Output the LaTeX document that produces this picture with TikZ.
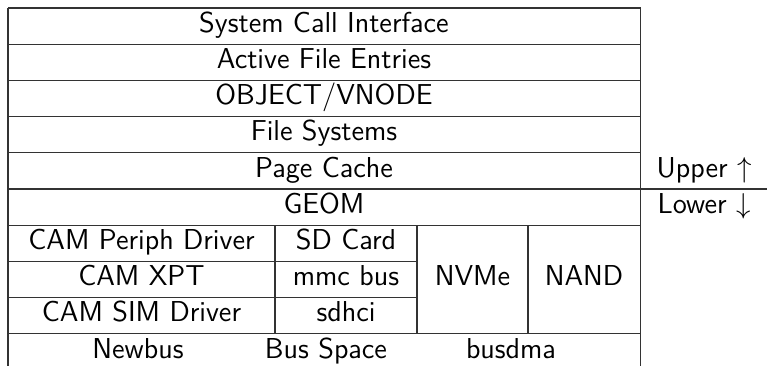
\documentclass[tikz,border=0pt]{standalone}
\usepackage{amsmath}
\usepackage{amssymb}
\usetikzlibrary{positioning}

\begin{document}
\begin{tikzpicture}[x=0.5pt, y=-0.5pt,
                every node/.append style={font=\sffamily\fontsize{14.4}{17}\selectfont, inner sep=0pt, anchor=base},
                rule/.style={draw=black!80, line width=0.6pt}]

\useasboundingbox (0,0) rectangle (767,366);

% rules of the table
\foreach \y in {8,44.2,80.4,116.6,152.8,225.2,333.8}
    \draw[rule] (8,\y) -- (640.5,\y);
\draw[rule] (8,189) -- (767,189);
\foreach \y in {261.4,297.6}
    \draw[rule] (8,\y) -- (417,\y);
\foreach \x in {275,417,528}
    \draw[rule] (\x,225.2) -- (\x,333.8);
\draw[rule] (8,8) -- (8,366);
\draw[rule] (640.5,8) -- (640.5,366);

% upper layers
\node (sci) at (324,32.2) {System Call Interface};
\node (afe) at (324,68.4) {Active File Entries};
\node (vnode) at (324,104.6) {OBJECT/VNODE};
\node (fs) at (324,140.8) {File Systems};
\node (cache) at (324,177) {Page Cache};
\node (upper) at (704,177) {Upper $\uparrow$};

% lower layers
\node (geom) at (324,213.2) {GEOM};
\node (lower) at (704,213.2) {Lower $\downarrow$};
\node (periph) at (141.5,249.4) {CAM Periph Driver};
\node (xpt) at (141.5,285.6) {CAM XPT};
\node (sim) at (141.5,321.8) {CAM SIM Driver};
\node (sdcard) at (346,249.4) {SD Card};
\node (mmc) at (346,285.6) {mmc bus};
\node (sdhci) at (346,321.8) {sdhci};
\node (nvme) at (472.5,285.6) {NVMe};
\node (nand) at (584,285.6) {NAND};

% bus layer
\node (newbus) at (138,358) {Newbus};
\node (busspace) at (326,358) {Bus Space};
\node (busdma) at (511,358) {busdma};

\end{tikzpicture}
\end{document}
